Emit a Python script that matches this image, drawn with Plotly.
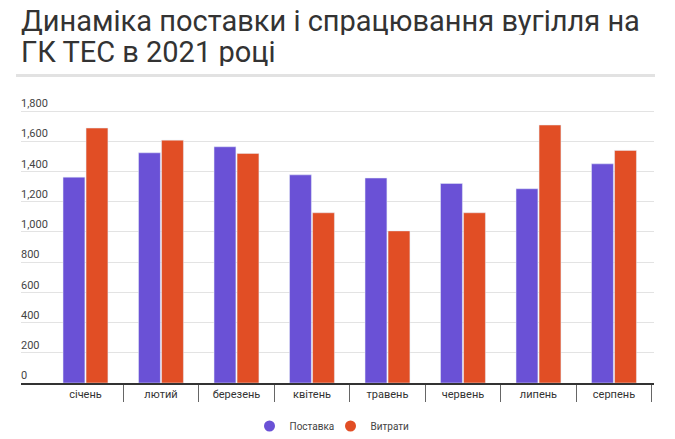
import plotly.graph_objects as go

months = ["січень", "лютий", "березень", "квітень", "травень", "червень", "липень", "серпень"]
supply = [1363, 1524, 1564, 1378, 1357, 1321, 1286, 1451]
spent = [1688, 1608, 1520, 1127, 1007, 1127, 1708, 1540]
y_ticks = [0, 200, 400, 600, 800, 1000, 1200, 1400, 1600, 1800]

PURPLE = "#6a51d6"
ORANGE = "#e14e25"

fig = go.Figure()
fig.add_trace(go.Bar(x=months, y=supply, name="Поставка", marker=dict(color=PURPLE), showlegend=False))
fig.add_trace(go.Bar(x=months, y=spent, name="Витрати", marker=dict(color=ORANGE), showlegend=False))
# legend entries with circle symbols
fig.add_trace(go.Scatter(x=[None], y=[None], mode="markers", name="Поставка",
                         marker=dict(color=PURPLE, size=11, symbol="circle")))
fig.add_trace(go.Scatter(x=[None], y=[None], mode="markers", name="Витрати",
                         marker=dict(color=ORANGE, size=11, symbol="circle")))

W, H = 675, 439
YMAX = 1920
L, R, B = 21, 21, 56
T = round(383 - YMAX * 272.3 / 1800)
ph = H - T - B
pw = W - L - R

def py(p):
    return (H - B - p) / ph

def px(p):
    return (p - L) / pw

fig.update_layout(
    width=W, height=H,
    margin=dict(l=L, r=R, t=T, b=B, autoexpand=False),
    paper_bgcolor="white", plot_bgcolor="white",
    font=dict(family="Roboto", color="#444"),
    barmode="group", bargap=0.39, bargroupgap=0.05,
    showlegend=True,
    legend=dict(orientation="h", x=0.5 - 7 / pw, xanchor="center", y=py(426), yanchor="middle",
                font=dict(size=10, color="#444"), itemwidth=30, entrywidth=36),
    xaxis=dict(type="category", range=[-0.854, 7.53], showline=True, linecolor="#333", linewidth=1.5,
               ticks="outside", tickson="boundaries", ticklen=17, tickcolor="#666", tickwidth=1,
               tickfont=dict(size=11, color="#333"), showgrid=False, fixedrange=True),
    yaxis=dict(range=[0, YMAX], tickvals=y_ticks, tickformat=",", showgrid=True, gridcolor="#e3e3e3",
               gridwidth=1, zeroline=False, ticklabelposition="inside top", ticklabelstandoff=-3,
               tickfont=dict(size=11, color="#444"), showline=False, ticks=""),
    shapes=[dict(type="line", xref="paper", yref="paper", x0=px(16), x1=px(655), y0=py(75.5), y1=py(75.5),
                 line=dict(color="#e2e2e2", width=3))],
    annotations=[
        dict(text="Динаміка поставки і спрацювання вугілля на", xref="paper", yref="paper",
             x=px(19), y=py(21.5), xanchor="left", yanchor="middle", showarrow=False, height=28,
             font=dict(family="Roboto", size=29, color="#333")),
        dict(text="ГК ТЕС в 2021 році", xref="paper", yref="paper",
             x=px(19), y=py(51.5), xanchor="left", yanchor="middle", showarrow=False, height=28,
             font=dict(family="Roboto", size=29, color="#333")),
    ],
)

fig.write_html("out.html")
